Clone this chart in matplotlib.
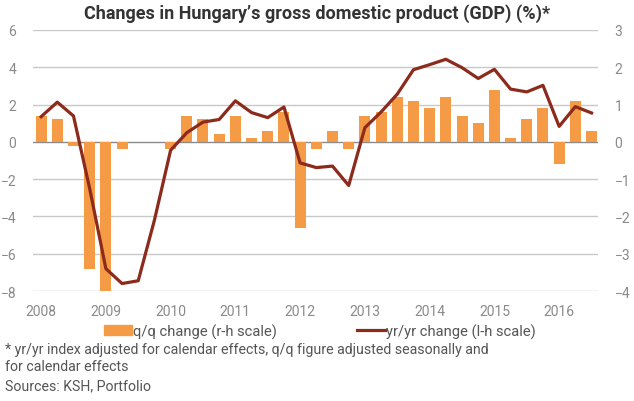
import matplotlib.pyplot as plt
from matplotlib.patches import Patch
from matplotlib.lines import Line2D

plt.rcParams['font.family'] = ['Roboto', 'DejaVu Sans']

# quarters 2008 Q1 .. 2016 Q3
years = ['2008', '2009', '2010', '2011', '2012', '2013', '2014', '2015', '2016']
qq = [0.7, 0.6, -0.1, -3.4, -4.0, -0.2, 0.0, 0.0,
      -0.2, 0.7, 0.6, 0.2, 0.7, 0.1, 0.3, 0.8,
      -2.3, -0.2, 0.3, -0.2, 0.7, 0.8, 1.2, 1.1,
      0.9, 1.2, 0.7, 0.5, 1.4, 0.1, 0.6, 0.9,
      -0.6, 1.1, 0.3]
yy = [1.35, 2.13, 1.39, -2.5, -6.8, -7.6, -7.45, -4.2,
      -0.45, 0.49, 1.06, 1.2, 2.2, 1.57, 1.3, 1.87,
      -1.13, -1.38, -1.3, -2.34, 0.76, 1.6, 2.56, 3.87,
      4.14, 4.43, 3.98, 3.4, 3.89, 2.83, 2.68, 3.03,
      0.83, 1.89, 1.55]

bar_col = '#F59A45'
line_col = '#8C2A1C'
tick_col = '#8a8a8a'
note_col = '#555555'

fig = plt.figure(figsize=(6.34, 4.02), dpi=100)
ax = fig.add_axes([33/634, 1-292/402, 565/634, 261/402])
ax2 = ax.twinx()

x = list(range(len(qq)))
ax2.bar(x, qq, width=0.68, color=bar_col, zorder=2)
ax.plot(x, yy, color=line_col, linewidth=2.3, zorder=3)

ax.set_zorder(ax2.get_zorder() + 1)
ax.patch.set_visible(False)

ax.set_ylim(-8, 6)
ax2.set_ylim(-4, 3)
ax.set_xlim(-0.5, 34.4)
ax.set_yticks(range(-8, 7, 2))
ax2.set_yticks(range(-4, 4))
ax.set_xticks(range(0, 36, 4))
ax.set_xticklabels(years)

for a in (ax, ax2):
    for s in a.spines.values():
        s.set_visible(False)
    a.tick_params(length=0, labelsize=10, colors=tick_col)
ax.tick_params(axis='y', pad=12)
ax2.tick_params(axis='y', pad=12)
ax.tick_params(axis='x', pad=9)

for v in range(-8, 7, 2):
    ax2.axhline(v / 2, color='#c8c8c8' if v else '#8a8a8a', linewidth=1, zorder=1)

fig.text(0.5, 1-14/402, "Changes in Hungary\u2019s gross domestic product (GDP) (%)*",
         ha='center', va='center', fontsize=13, fontweight='bold', color='#333333')

handles = [Patch(color=bar_col), Line2D([], [], color=line_col, linewidth=2.3)]
fig.legend(handles, ['q/q change (r-h scale)', 'yr/yr change (l-h scale)'],
           loc='center', bbox_to_anchor=(320/634, 1-332/402), ncol=2, frameon=False,
           fontsize=10.6, handlelength=1.9, handletextpad=0.1, columnspacing=5.4,
           labelcolor=note_col)

fig.text(5/634, 1-350/402,
         '* yr/yr index adjusted for calendar effects, q/q figure adjusted seasonally and',
         ha='left', va='center', fontsize=10.2, color=note_col)
fig.text(5/634, 1-367/402, 'for calendar effects',
         ha='left', va='center', fontsize=10.2, color=note_col)
fig.text(5/634, 1-386/402, 'Sources: KSH, Portfolio',
         ha='left', va='center', fontsize=10.2, color=note_col)

fig.savefig('out.png', dpi=100)
